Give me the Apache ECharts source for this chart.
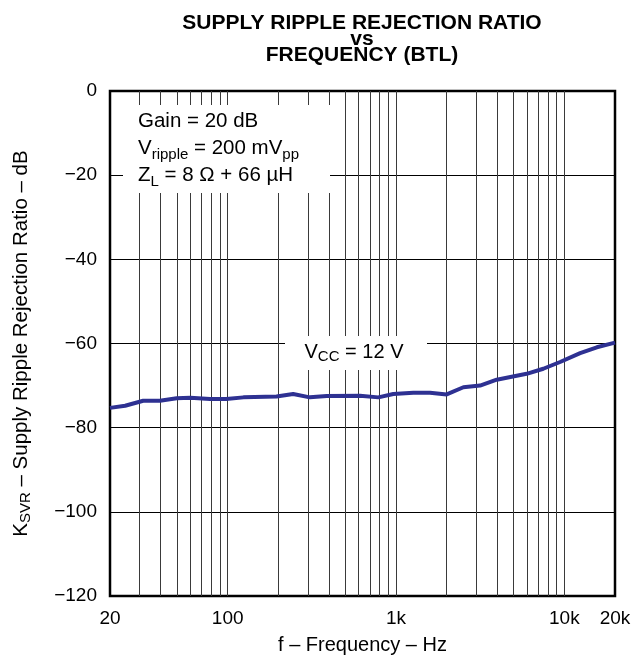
<!DOCTYPE html>
<html>
<head>
<meta charset="utf-8">
<title>Supply Ripple Rejection Ratio vs Frequency (BTL)</title>
<script src="https://cdn.jsdelivr.net/npm/echarts@6/dist/echarts.min.js"></script>
<style>
  html, body { margin: 0; padding: 0; background: #fff; }
  #chart { width: 641px; height: 663px; }
</style>
</head>
<body>
<div id="chart"></div>
<script>
// measured curve, Vcc = 12 V
const freq = [20, 24.6, 31.5, 39.6, 49.8, 60, 78.6, 98, 124, 195, 245, 308, 388, 611, 785, 964,
  1268, 1592, 2000, 2514, 3158, 3966, 5972, 7500, 9436, 12417, 15600, 20000]
const ksvr = [-75.3, -74.8, -73.6, -73.6, -73.0, -72.9, -73.2, -73.2, -72.8, -72.6, -72.0, -72.8,
  -72.5, -72.4, -72.8, -72.0, -71.7, -71.7, -72.1, -70.4, -70.0, -68.6, -67.2, -66.0, -64.4,
  -62.3, -60.9, -59.8]

// axis ticks / grid
const xLabels = [20, 100, 1000, 10000, 20000]
const gridFreqs = [30, 40, 50, 60, 70, 80, 90, 100, 200, 300, 400, 500, 600, 700, 800, 900,
  1000, 2000, 3000, 4000, 5000, 6000, 7000, 8000, 9000, 10000]
const yMin = -120
const yMax = 0
const yStep = 20

const FONT = '"Liberation Sans", Arial, Helvetica, sans-serif'

const chart = echarts.init(document.getElementById('chart'), null, { renderer: 'canvas' })

chart.setOption({
  animation: false,
  backgroundColor: '#fff',
  textStyle: { fontFamily: FONT },
  title: {
    text: 'SUPPLY RIPPLE REJECTION RATIO\nvs\nFREQUENCY (BTL)',
    left: 362,
    top: 15,
    textAlign: 'center',
    padding: 0,
    textStyle: {
      fontFamily: FONT,
      fontSize: 21,
      fontWeight: 'bold',
      color: '#000',
      lineHeight: 16
    }
  },
  grid: {
    left: 110,
    right: 26,
    top: 91,
    bottom: 67,
    outerBoundsMode: 'none',
    containLabel: false,
    show: true,
    borderColor: '#000',
    borderWidth: 2.5,
    backgroundColor: 'transparent'
  },
  xAxis: {
    type: 'log',
    logBase: 10,
    min: 20,
    max: 20000,
    name: 'f \u2013 Frequency \u2013 Hz',
    nameLocation: 'middle',
    nameGap: 39,
    nameTextStyle: { fontFamily: FONT, fontSize: 20, color: '#000' },
    axisLine: { show: false },
    axisTick: { show: false },
    splitLine: { show: false },
    axisLabel: {
      customValues: xLabels,
      margin: 13,
      fontFamily: FONT,
      fontSize: 19,
      color: '#000',
      formatter: v => v >= 1000 ? (v / 1000) + 'k' : String(v)
    }
  },
  yAxis: {
    type: 'value',
    min: yMin,
    max: yMax,
    interval: yStep,
    name: '{n|K}{sub|SVR}{n| \u2013 Supply Ripple Rejection Ratio \u2013 dB}',
    nameLocation: 'middle',
    nameRotate: 90,
    nameGap: 77,
    nameTextStyle: {
      fontFamily: FONT,
      color: '#000',
      rich: {
        n: { fontFamily: FONT, fontSize: 20.5, color: '#000', lineHeight: 24 },
        sub: { fontFamily: FONT, fontSize: 15, color: '#000', lineHeight: 24, verticalAlign: 'bottom' }
      }
    },
    axisLine: { show: false },
    axisTick: { show: false },
    splitLine: { show: true, lineStyle: { color: '#000', width: 1 } },
    axisLabel: {
      margin: 13,
      fontFamily: FONT,
      fontSize: 19,
      color: '#000',
      formatter: v => v < 0 ? '\u2212' + Math.abs(v) : String(v)
    }
  },
  series: [
    {
      name: 'VCC = 12 V',
      type: 'line',
      data: freq.map((f, i) => [f, ksvr[i]]),
      showSymbol: false,
      smooth: false,
      z: 5,
      lineStyle: { color: '#2e3192', width: 4 },
      markLine: {
        silent: true,
        symbol: 'none',
        label: { show: false },
        lineStyle: { color: '#3a3a3a', width: 1, type: 'solid' },
        data: gridFreqs.map(f => ({ xAxis: f }))
      }
    }
  ],
  graphic: [
    // label boxes knock out the grid behind them
    { type: 'rect', z: 100, shape: { x: 123, y: 105, width: 207, height: 88 }, style: { fill: '#fff' } },
    {
      type: 'text',
      z: 101,
      x: 138,
      y: 108,
      style: {
        text: '{n|Gain = 20 dB}\n{n|V}{sub|ripple}{n| = 200 mV}{sub|pp}\n{n|Z}{sub|L}{n| = 8 \u03a9 + 66 \u00b5H}',
        textVerticalAlign: 'top',
        rich: {
          n: { fontFamily: FONT, fontSize: 20.5, fill: '#000', lineHeight: 27 },
          sub: { fontFamily: FONT, fontSize: 15, fill: '#000', lineHeight: 27, verticalAlign: 'bottom' }
        }
      }
    },
    { type: 'rect', z: 100, shape: { x: 285, y: 336, width: 142, height: 34 }, style: { fill: '#fff' } },
    {
      type: 'text',
      z: 101,
      x: 354,
      y: 340,
      style: {
        text: '{n|V}{sub|CC}{n| = 12 V}',
        textAlign: 'center',
        textVerticalAlign: 'top',
        rich: {
          n: { fontFamily: FONT, fontSize: 20, fill: '#000', lineHeight: 24 },
          sub: { fontFamily: FONT, fontSize: 15, fill: '#000', lineHeight: 24, verticalAlign: 'bottom' }
        }
      }
    }
  ]
})

window.addEventListener('resize', () => chart.resize())
</script>
</body>
</html>
